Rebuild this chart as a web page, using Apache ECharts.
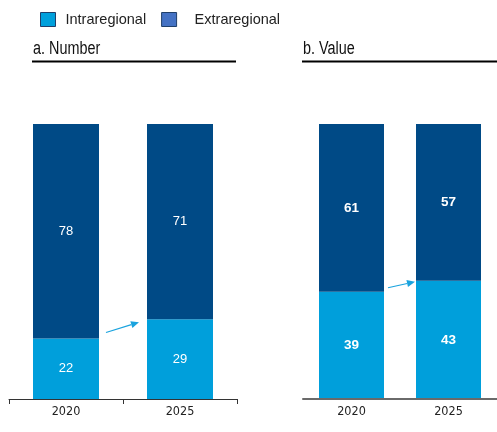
<!DOCTYPE html>
<html><head><meta charset="utf-8">
<script src="https://cdn.jsdelivr.net/npm/echarts@6/dist/echarts.min.js"></script>
<style>html,body{margin:0;padding:0;background:#fff}#c{width:497px;height:432px}</style>
</head><body><div id="c"></div>
<script>
const categories = ['2020', '2025'];
const numberIntra = [22, 29];
const numberExtra = [78, 71];
const valueIntra = [39, 43];
const valueExtra = [61, 57];
const panelTitles = ['a. Number', 'b. Value'];
const seriesNames = ['Intraregional', 'Extraregional'];

const COND = '"DejaVu Sans Condensed", "Liberation Sans", sans-serif';
const SANS = '"Liberation Sans", Arial, sans-serif';
const LIGHT = '#009FDB';
const DARK = '#004A86';

const chart = echarts.init(document.getElementById('c'), null, {renderer: 'canvas'});

function xAxis(gi, showTick, lineColor, lineW) {
  return {
    type: 'category', gridIndex: gi, data: categories,
    axisLine: {show: true, lineStyle: {color: lineColor, width: lineW}},
    axisTick: {show: showTick, length: 5, lineStyle: {color: '#333'}},
    axisLabel: {color: '#222', fontSize: 12.5, fontFamily: COND, margin: 6},
    z: 10
  };
}
function yAxis(gi) {
  return {type: 'value', gridIndex: gi, min: 0, max: 100, show: false, splitLine: {show: false}};
}
function bar(name, data, gi, color, bold, fs, bw) {
  return {
    name: name, type: 'bar', stack: 's' + gi, xAxisIndex: gi, yAxisIndex: gi,
    data: data, barWidth: bw, itemStyle: {color: color},
    label: {show: true, position: 'inside', color: '#fff', fontSize: fs,
            fontWeight: bold ? 'bold' : 'normal', fontFamily: SANS}
  };
}

function titleText(txt, x) {
  return {type: 'text', left: x, top: 40, scaleX: 0.8, z: 20,
          style: {text: txt, font: '18px "Liberation Sans", Arial, sans-serif', fill: '#111'}};
}
const staticGraphics = [
  titleText(panelTitles[0], 33),
  titleText(panelTitles[1], 303),
  {type: 'line', shape: {x1: 32, y1: 61.5, x2: 236, y2: 61.5}, style: {stroke: '#000', lineWidth: 2}},
  {type: 'line', shape: {x1: 302, y1: 61.5, x2: 497, y2: 61.5}, style: {stroke: '#000', lineWidth: 2}}
];

chart.setOption({
  animation: false,
  legend: [{
    left: 35, top: 7, itemWidth: 15, itemHeight: 14, itemGap: 15, icon: 'rect',
    selectedMode: false,
    textStyle: {fontSize: 14.5, color: '#222', fontFamily: SANS, padding: [0, 0, 0, 5]},
    data: [
      {name: seriesNames[0], itemStyle: {color: '#00A0DC', borderColor: '#1F3F6A', borderWidth: 1}},
      {name: seriesNames[1], itemStyle: {color: '#4472C4', borderColor: '#1F3F6A', borderWidth: 1}, textStyle: {padding: [0, 0, 0, 13]}}
    ]
  }],
  grid: [
    {left: 9, width: 228, top: 124, bottom: 33},
    {left: 303, right: 0, top: 124, bottom: 33}
  ],
  xAxis: [xAxis(0, true, '#333', 1), xAxis(1, false, '#6a6a6a', 2)],
  yAxis: [yAxis(0), yAxis(1)],
  series: [
    bar(seriesNames[0], numberIntra, 0, LIGHT, false, 13, 66),
    bar(seriesNames[1], numberExtra, 0, DARK, false, 13, 66),
    bar(seriesNames[0], valueIntra, 1, LIGHT, true, 13.5, 65),
    bar(seriesNames[1], valueExtra, 1, DARK, true, 13.5, 65)
  ],
  graphic: staticGraphics
});

// arrows between bars, anchored to the stacked boundaries
function arrow(gi, intra, bw, gap0, gap1, dy0, dy1) {
  const p0 = chart.convertToPixel({gridIndex: gi}, [categories[0], intra[0]]);
  const p1 = chart.convertToPixel({gridIndex: gi}, [categories[1], intra[1]]);
  const x1 = p0[0] + bw / 2 + gap0, y1 = p0[1] + dy0;
  const x2 = p1[0] - bw / 2 - gap1, y2 = p1[1] + dy1;
  const ang = Math.atan2(y2 - y1, x2 - x1);
  const L = 8, W = 3.5;
  const bx = x2 - L * Math.cos(ang), by = y2 - L * Math.sin(ang);
  const nx = -Math.sin(ang), ny = Math.cos(ang);
  return [
    {type: 'line', shape: {x1: x1, y1: y1, x2: bx, y2: by}, style: {stroke: '#1AA3DE', lineWidth: 1.2}},
    {type: 'polygon', shape: {points: [[x2, y2], [bx + nx * W, by + ny * W], [bx - nx * W, by - ny * W]]}, style: {fill: '#1AA3DE'}}
  ];
}
chart.setOption({graphic: [].concat(staticGraphics,
  arrow(0, numberIntra, 66, 7, 8, -6, 3), arrow(1, valueIntra, 65, 4, 1, -4, 1))}, {replaceMerge: ['graphic']});
</script></body></html>
